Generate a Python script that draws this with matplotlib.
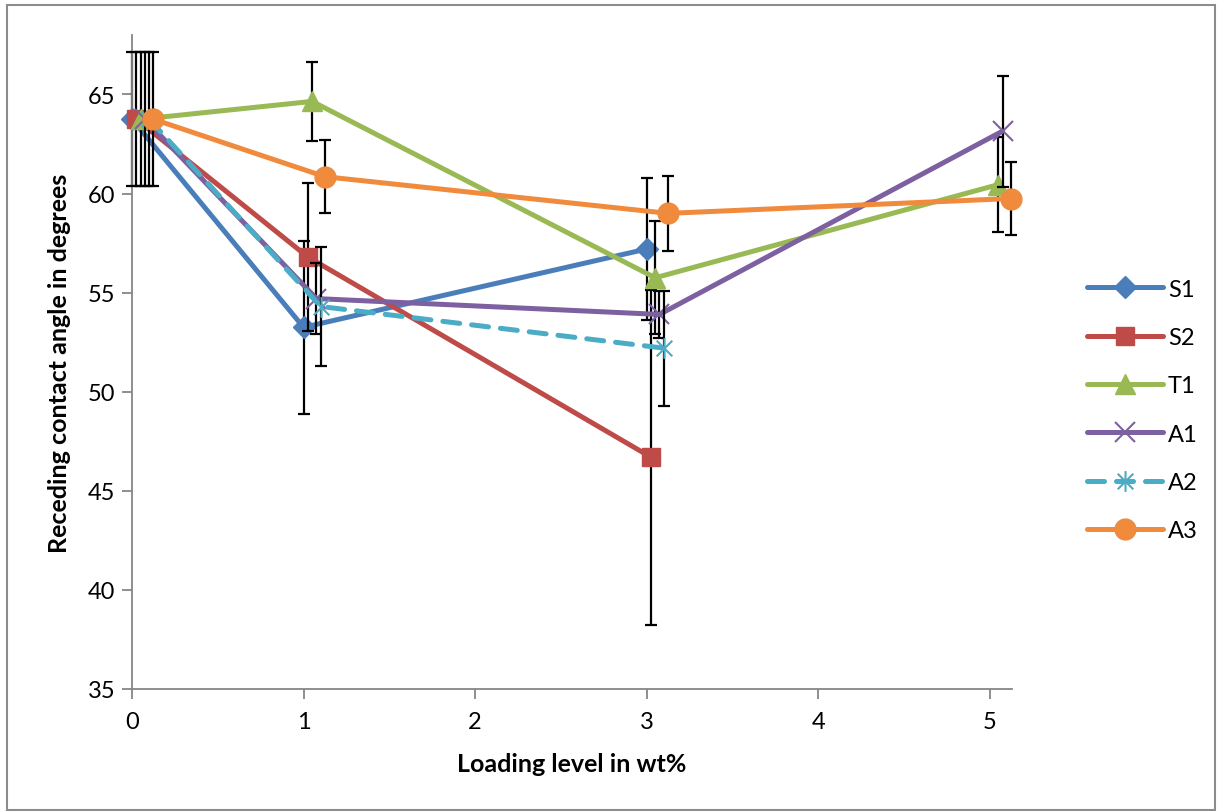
import matplotlib
matplotlib.use("Agg")
import matplotlib.pyplot as plt
from matplotlib.path import Path
from matplotlib.patches import Rectangle

plt.rcParams['font.family'] = ['Lato', 'DejaVu Sans']

# ---- data ----
loading = [0, 1, 3, 5]
series_names = ["S1", "S2", "T1", "A1", "A2", "A3"]
x_offsets = [0.0, 0.025, 0.05, 0.075, 0.1, 0.125]

S1 = [63.75, 53.25, 57.2]
S2 = [63.75, 56.8, 46.7]
T1 = [63.75, 64.65, 55.75, 60.45]
A1 = [63.75, 54.7, 53.9, 63.15]
A2 = [63.75, 54.3, 52.2]
A3 = [63.75, 60.85, 59.0, 59.75]

S1_err = [3.37, 4.35, 3.6]
S2_err = [3.37, 3.75, 8.45]
T1_err = [3.37, 2.0, 2.85, 2.4]
A1_err = [3.37, 1.8, 1.2, 2.8]
A2_err = [3.37, 3.0, 2.9]
A3_err = [3.37, 1.85, 1.9, 1.85]

values = [S1, S2, T1, A1, A2, A3]
errors = [S1_err, S2_err, T1_err, A1_err, A2_err, A3_err]

colors = ["#4A7EBB", "#BE4B48", "#98B954", "#7D60A0", "#4BACC6", "#F08A3C"]

# asterisk marker (x plus vertical bar)
star = Path([(0, -1), (0, 1), (-0.75, -0.75), (0.75, 0.75), (-0.75, 0.75), (0.75, -0.75)],
            [Path.MOVETO, Path.LINETO, Path.MOVETO, Path.LINETO, Path.MOVETO, Path.LINETO])

styles = [
    dict(marker="D", markersize=11, linestyle="-"),
    dict(marker="s", markersize=13, linestyle="-"),
    dict(marker="^", markersize=14, linestyle="-"),
    dict(marker="x", markersize=15, linestyle="-", markeredgewidth=1.5),
    dict(marker=star, markersize=15, linestyle=(0, (3.4, 2.4)), markeredgewidth=1.5,
         markerfacecolor="none"),
    dict(marker="o", markersize=15, linestyle="-"),
]

fig = plt.figure(figsize=(12.17, 8.12), dpi=100)
ax = fig.add_axes([132/1217, 1 - 690/812, (1012-132)/1217, (690-36)/812])

for i, (name, vals, errs) in enumerate(zip(series_names, values, errors)):
    xs = [loading[k] + x_offsets[i] for k in range(len(vals))]
    st = dict(styles[i])
    ls = st.pop("linestyle")
    eb = ax.errorbar(xs, vals, yerr=errs, fmt="none", ecolor="black", elinewidth=1.6,
                     capsize=4.5, capthick=1.6, zorder=2 + i)
    for art in eb.lines[1] + eb.lines[2]:
        art.set_clip_on(False)
    mfc = st.pop("markerfacecolor", colors[i])
    ax.plot(xs, vals, color=colors[i], linewidth=3.6, linestyle=ls,
            markerfacecolor=mfc, markeredgecolor=colors[i], label=name,
            solid_capstyle="round", dash_capstyle="round", zorder=3 + i,
            clip_on=False, **st)

ax.set_xlim(0, 5.13)
ax.set_ylim(35, 68)
ax.set_xticks([0, 1, 2, 3, 4, 5])
ax.set_yticks([35, 40, 45, 50, 55, 60, 65])

for s in ["top", "right"]:
    ax.spines[s].set_visible(False)
for s in ["left", "bottom"]:
    ax.spines[s].set_color("#868686")
    ax.spines[s].set_linewidth(1.3)
ax.tick_params(axis="both", direction="out", length=7, width=1.3, color="#868686",
               labelsize=17, labelcolor="black")
ax.tick_params(axis="x", pad=9)
ax.tick_params(axis="y", pad=5)

ax.set_xlabel("Loading level in wt%", fontsize=18, fontweight="bold", labelpad=14)
ax.set_ylabel("Receding contact angle in degrees", fontsize=18, fontweight="bold", labelpad=12)

leg = fig.legend(loc="center left", bbox_to_anchor=(1078/1217, 1 - 411/812),
                 frameon=False, fontsize=17, handlelength=3.2, labelspacing=1.16,
                 handletextpad=0.2, borderaxespad=0)

fig.patches.append(Rectangle((7/1217, 1/812), 1208/1217, 805/812, transform=fig.transFigure,
                             fill=False, edgecolor="#8c8c8c", linewidth=1.5))

fig.savefig("out.png", dpi=100)
